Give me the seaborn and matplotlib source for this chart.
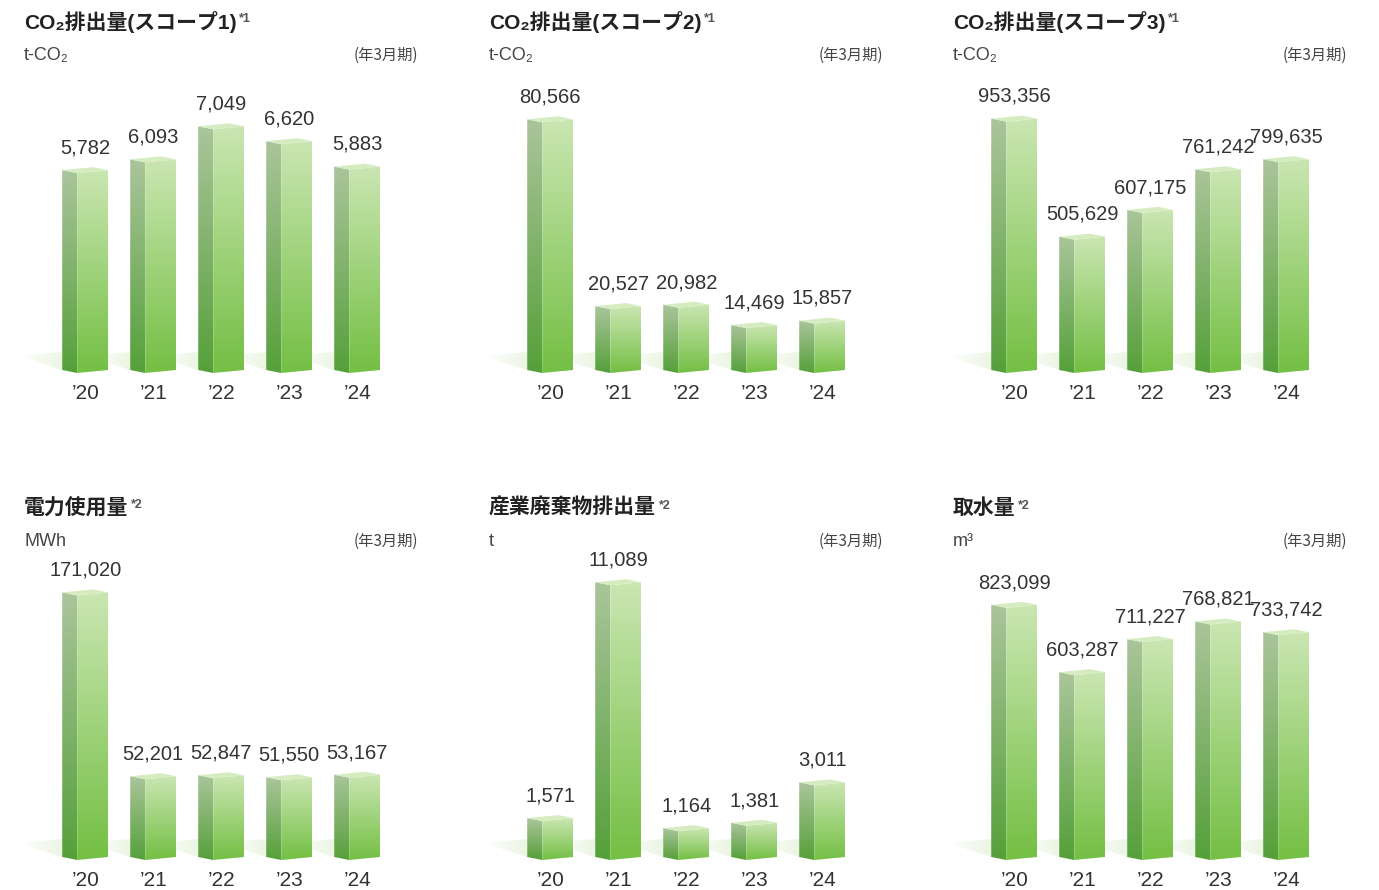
import numpy as np
import pandas as pd
import matplotlib
matplotlib.use("Agg")
import matplotlib.pyplot as plt
import seaborn as sns
from matplotlib.patches import Polygon
from matplotlib.colors import to_rgb

# ---------------- data ----------------
years = ["’20", "’21", "’22", "’23", "’24"]
scope1 = [5782, 6093, 7049, 6620, 5883]
scope2 = [80566, 20527, 20982, 14469, 15857]
scope3 = [953356, 505629, 607175, 761242, 799635]
electricity = [171020, 52201, 52847, 51550, 53167]
waste = [1571, 11089, 1164, 1381, 3011]
water = [823099, 603287, 711227, 768821, 733742]

series = [scope1, scope2, scope3, electricity, waste, water]
titles = ["CO₂排出量(スコープ1)", "CO₂排出量(スコープ2)", "CO₂排出量(スコープ3)",
          "電力使用量", "産業廃棄物排出量", "取水量"]
notes = ["*1", "*1", "*1", "*2", "*2", "*2"]
units = ["t-CO₂", "t-CO₂", "t-CO₂", "MWh", "t", "m³"]
period = "(年3月期)"

# ---------------- layout / style ----------------
W, H = 1379, 890
ymaxs = [8100, 90000, 1062000, 181000, 11300, 914000]
col_left = [24, 489, 953]
col_right = [418, 883, 1347]
row_base = [370, 857]
title_y = [22, 508]
unit_y = [55, 541]
PX_X = 68.0          # px per category
AX_H = 280.0         # px from base to axes top

FRONT_TOP, FRONT_BOT = "#cae6b2", "#74bf44"
SIDE_TOP, SIDE_BOT = "#aac59b", "#55a03a"
TOP_FACE = "#d4ecc0"

sns.set_style("white")
plt.rcParams["font.family"] = ["Noto Sans CJK JP", "DejaVu Sans"]
NUMFONT = ["Liberation Sans", "DejaVu Sans"]
TITLEFONT = ["Liberation Sans", "Noto Sans CJK JP", "DejaVu Sans"]

fig = plt.figure(figsize=(W / 100, H / 100), dpi=100)


def grad_fill(ax, verts, extent, c_top, c_bot, z, alpha_h=None):
    poly = Polygon(verts, closed=True, facecolor="none", edgecolor="none", zorder=z)
    ax.add_patch(poly)
    if alpha_h is None:
        t = np.linspace(0, 1, 200)[:, None]
        top = np.array(to_rgb(c_top)); bot = np.array(to_rgb(c_bot))
        img = (1 - t)[:, :, None] * top + t[:, :, None] * bot
    else:
        a = np.linspace(alpha_h[0], alpha_h[1], 200)[None, :]
        col = np.array(to_rgb(c_top))
        img = np.zeros((1, 200, 4))
        img[..., :3] = col
        img[..., 3] = a
    im = ax.imshow(img, extent=extent, aspect="auto", origin="upper",
                   interpolation="bilinear", zorder=z)
    im.set_clip_path(poly)


for i, vals in enumerate(series):
    r, c = divmod(i, 3)
    ymax = ymaxs[i]
    dy = ymax / AX_H
    dx = 1.0 / PX_X
    left_px = col_left[c] - 12
    width_px = col_right[c] - col_left[c] + 12
    base = row_base[r]
    ax = fig.add_axes([left_px / W, 1 - (base + 10) / H, width_px / W, (AX_H + 10) / H])

    df = pd.DataFrame({"year": years, "value": vals})
    sns.barplot(data=df, x="year", y="value", ax=ax, width=0.676,
                color=FRONT_BOT, saturation=1)

    xmin = -(0.9 * PX_X + 12) / PX_X
    for p, v in zip(ax.patches, vals):
        p.set_visible(False)
        x0 = p.get_x(); w = p.get_width(); h = p.get_height()
        s = w * 15 / 46
        d = 3 * dy
        # floor shadow
        grad_fill(ax, [(x0, 0), (x0 - 44 * dx, 14 * dy), (x0, 18 * dy)],
                  (x0 - 44 * dx, x0, 0, 18 * dy), "#c6e4b0", None, 1, alpha_h=(0.0, 0.35))
        # side face
        grad_fill(ax, [(x0, 0), (x0 + s, -d), (x0 + s, h - d), (x0, h)],
                  (x0, x0 + s, -d, h), SIDE_TOP, SIDE_BOT, 3)
        # front face
        grad_fill(ax, [(x0 + s, -d), (x0 + w, 0), (x0 + w, h), (x0 + s, h - d)],
                  (x0 + s, x0 + w, -d, h), FRONT_TOP, FRONT_BOT, 3)
        # top face
        ax.add_patch(Polygon([(x0, h), (x0 + s, h - d), (x0 + w, h), (x0 + w - s, h + d)],
                             closed=True, facecolor=TOP_FACE, edgecolor="none", zorder=4))
        ax.annotate(f"{v:,}", xy=(x0 + w / 2, h + d), xytext=(0, 7),
                    textcoords="offset points", ha="center", va="bottom",
                    fontsize=14.5, color="#333333", family=NUMFONT)

    ax.set_xlim(xmin, xmin + width_px / PX_X)
    ax.set_ylim(-10 * dy, ymax)
    ax.set_xlabel("")
    ax.set_ylabel("")
    ax.set_yticks([])
    ax.tick_params(axis="x", length=0, pad=3, labelsize=15, labelcolor="#333333")
    for lab in ax.get_xticklabels():
        lab.set_family(NUMFONT)
    sns.despine(ax=ax, left=True, bottom=True)
    ax.patch.set_alpha(0)

    # titles and labels
    t = fig.text(col_left[c] / W, 1 - title_y[r] / H, titles[i], fontsize=15,
                 fontweight="bold", color="#222222", ha="left", va="center",
                 family=TITLEFONT)
    ax.annotate(notes[i], xy=(1, 0.92), xycoords=t, xytext=(2, 0),
                textcoords="offset points", ha="left", va="top",
                fontsize=9, fontweight="bold", color="#555555",
                annotation_clip=False, family=NUMFONT)
    fig.text(col_left[c] / W, 1 - unit_y[r] / H, units[i], fontsize=13,
             color="#444444", ha="left", va="center", family=NUMFONT)
    fig.text(col_right[c] / W, 1 - unit_y[r] / H, period, fontsize=11,
             color="#444444", ha="right", va="center")

fig.savefig("out.png", dpi=100)
